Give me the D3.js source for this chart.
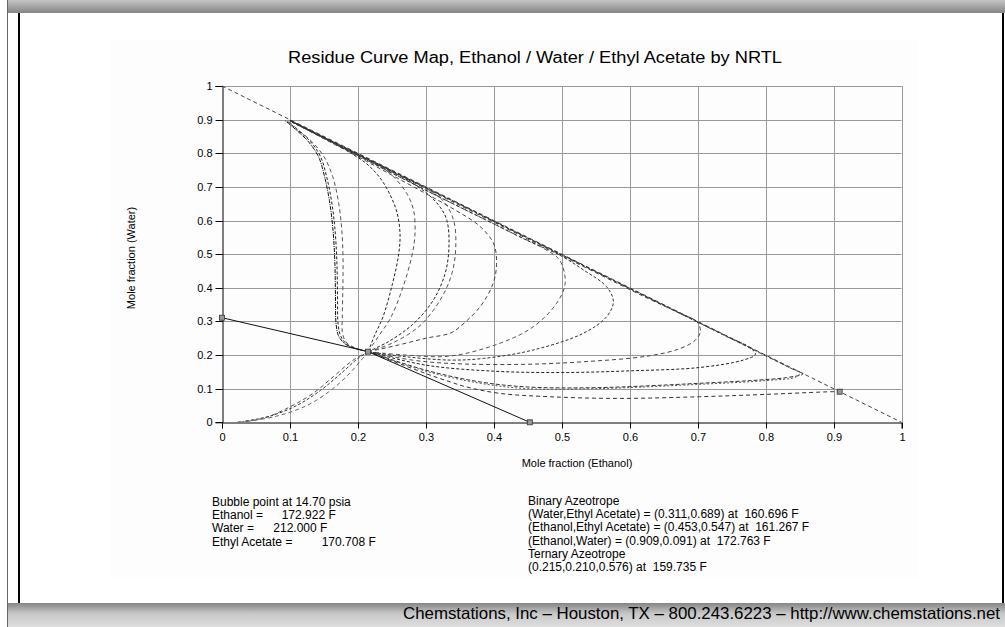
<!DOCTYPE html>
<html><head><meta charset="utf-8">
<script src="https://cdn.jsdelivr.net/npm/d3@7"></script>
<style>
body{margin:0;background:#fff;}
svg text{font-family:"Liberation Sans",Arial,sans-serif;}
</style></head>
<body><svg id="c" width="1005" height="627"></svg>
<script>
// ---------- data ----------
const titleText = "Residue Curve Map, Ethanol / Water / Ethyl Acetate by NRTL";
const xLabel = "Mole fraction (Ethanol)";
const yLabel = "Mole fraction (Water)";
const tickValues = [0,0.1,0.2,0.3,0.4,0.5,0.6,0.7,0.8,0.9,1];
const tickLabels = ["0","0.1","0.2","0.3","0.4","0.5","0.6","0.7","0.8","0.9","1"];
const hypotenuse = [[0,1],[1,0]];
const boundary = [[0,0.311],[0.215,0.210],[0.453,0]];
const azeotropes = [[0,0.311],[0.215,0.210],[0.453,0],[0.909,0.091]];
const curveA = [[0.215,0.21],[0.198,0.219],[0.182,0.232],[0.172,0.255],[0.168,0.29],[0.167,0.38],[0.166,0.48],[0.163,0.58],[0.158,0.66],[0.151,0.73],[0.142,0.79],[0.127,0.835],[0.11,0.868],[0.093,0.897]];
const curveA2 = [[0.215,0.21],[0.2,0.218],[0.185,0.23],[0.175,0.255],[0.171,0.29],[0.17,0.38],[0.169,0.48],[0.166,0.58],[0.161,0.66],[0.154,0.73],[0.145,0.79],[0.13,0.835],[0.112,0.868],[0.095,0.897]];
const curveB = [[0.215,0.21],[0.195,0.222],[0.182,0.24],[0.177,0.27],[0.177,0.31],[0.178,0.42],[0.178,0.5],[0.176,0.58],[0.171,0.66],[0.163,0.73],[0.15,0.79],[0.132,0.835],[0.112,0.87],[0.095,0.9]];
const curveC = [[0.215,0.21],[0.225,0.26],[0.237,0.314],[0.251,0.413],[0.26,0.5],[0.262,0.56],[0.258,0.62],[0.25,0.665],[0.235,0.72],[0.215,0.765],[0.19,0.8],[0.16,0.835],[0.13,0.865],[0.1,0.895]];
const curveD = [[0.215,0.21],[0.23,0.255],[0.248,0.31],[0.266,0.4],[0.28,0.5],[0.284,0.56],[0.282,0.63],[0.272,0.68],[0.25,0.735],[0.225,0.77],[0.19,0.805],[0.15,0.847],[0.12,0.877],[0.1,0.897]];
const curveE = [[0.215,0.21],[0.245,0.24],[0.28,0.29],[0.31,0.36],[0.328,0.44],[0.334,0.52],[0.331,0.6],[0.321,0.64],[0.302,0.68],[0.275,0.718],[0.24,0.755],[0.2,0.795],[0.15,0.845],[0.1,0.897]];
const curveF = [[0.215,0.21],[0.25,0.235],[0.29,0.285],[0.32,0.36],[0.338,0.44],[0.344,0.52],[0.341,0.6],[0.327,0.655],[0.305,0.69],[0.27,0.727],[0.23,0.767],[0.19,0.808],[0.14,0.857],[0.1,0.898]];
const curveG = [[0.215,0.21],[0.26,0.23],[0.3,0.25],[0.336,0.265],[0.35,0.284],[0.38,0.344],[0.399,0.413],[0.404,0.47],[0.4,0.53],[0.38,0.582],[0.34,0.635],[0.3,0.68],[0.25,0.735],[0.2,0.79],[0.15,0.843],[0.1,0.897]];
const curveH = [[0.215,0.21],[0.27,0.2],[0.336,0.197],[0.409,0.235],[0.458,0.284],[0.4925,0.354],[0.505,0.413],[0.497,0.482],[0.475,0.515],[0.43,0.56],[0.38,0.61],[0.3,0.69],[0.2,0.793],[0.1,0.897]];
const curveI = [[0.215,0.21],[0.27,0.195],[0.336,0.185],[0.385,0.19],[0.458,0.215],[0.532,0.265],[0.566,0.314],[0.576,0.359],[0.566,0.403],[0.532,0.453],[0.497,0.497],[0.45,0.54],[0.4,0.59],[0.3,0.69],[0.2,0.793],[0.1,0.897]];
const curveJ = [[0.215,0.21],[0.28,0.185],[0.336,0.175],[0.434,0.172],[0.532,0.18],[0.63,0.198],[0.675,0.22],[0.697,0.245],[0.704,0.27],[0.699,0.299],[0.674,0.324],[0.62,0.375],[0.55,0.445],[0.45,0.545],[0.3,0.695],[0.2,0.795],[0.1,0.897]];
const curveK = [[0.215,0.21],[0.3,0.17],[0.4,0.152],[0.5,0.148],[0.6,0.153],[0.703,0.163],[0.767,0.185],[0.785,0.202],[0.777,0.222],[0.74,0.258],[0.65,0.348],[0.5,0.498],[0.35,0.648],[0.2,0.797],[0.1,0.898]];
const curveL = [[0.215,0.21],[0.3,0.155],[0.38,0.12],[0.45,0.105],[0.55,0.103],[0.703,0.116],[0.8,0.127],[0.831,0.133],[0.855,0.144],[0.84,0.158],[0.78,0.218],[0.65,0.348],[0.5,0.498],[0.35,0.648],[0.2,0.798],[0.1,0.898]];
const curveM = [[0.215,0.21],[0.3,0.152],[0.38,0.116],[0.45,0.1],[0.55,0.1],[0.703,0.113],[0.8,0.124],[0.845,0.135],[0.85,0.147],[0.835,0.163],[0.78,0.219],[0.65,0.349]];
const curveN = [[0.215,0.21],[0.3,0.145],[0.336,0.12],[0.36,0.105],[0.409,0.086],[0.483,0.076],[0.581,0.071],[0.703,0.076],[0.8,0.083],[0.898,0.091],[0.909,0.091]];
const curveP = [[0.215,0.21],[0.193,0.185],[0.164,0.136],[0.134,0.086],[0.1,0.046],[0.061,0.012],[0.022,0.001]];
const curveQ = [[0.215,0.21],[0.2,0.19],[0.175,0.145],[0.145,0.095],[0.11,0.05],[0.07,0.018],[0.03,0.002]];
const curveR = [[0.215,0.21],[0.205,0.185],[0.185,0.14],[0.16,0.095],[0.125,0.05],[0.08,0.018],[0.035,0.002]];
const residueCurves = [curveA,curveA2,curveB,curveC,curveD,curveE,curveF,curveG,curveH,curveI,curveJ,curveK,curveL,curveM,curveN,curveP,curveQ,curveR];
const bubbleHeader = "Bubble point at 14.70 psia";
const bubbleNames = ["Ethanol =","Water =","Ethyl Acetate ="];
const bubbleValues = ["172.922 F","212.000 F","170.708 F"];
const azeoLines = ["Binary Azeotrope","(Water,Ethyl Acetate) = (0.311,0.689) at  160.696 F","(Ethanol,Ethyl Acetate) = (0.453,0.547) at  161.267 F","(Ethanol,Water) = (0.909,0.091) at  172.763 F","Ternary Azeotrope","(0.215,0.210,0.576) at  159.735 F"];
const footerText = "Chemstations, Inc \u2013 Houston, TX \u2013 800.243.6223 \u2013 http://www.chemstations.net";

// ---------- layout / styles ----------
const bubbleValueX = [281.7,273.3,321.7];
const curveStyles = [
  {c:"#111",d:"4,1,1,1"},{c:"#222",d:"3,2"},{c:"#555",d:"4,3"},
  {c:"#222",d:"3,2"},{c:"#555",d:"4,3"},{c:"#222",d:"3,2"},{c:"#555",d:"4,3"},
  {c:"#444",d:"4,3"},{c:"#555",d:"4,3"},{c:"#333",d:"3,2"},{c:"#444",d:"4,3"},
  {c:"#222",d:"3,2"},{c:"#333",d:"4,2"},{c:"#555",d:"2,2"},{c:"#333",d:"4,3"},
  {c:"#555",d:"4,3"},{c:"#333",d:"3,2"},{c:"#666",d:"4,3"}
];

const svg = d3.select("#c");
const defs = svg.append("defs");
const g1 = defs.append("linearGradient").attr("id","hdr").attr("x1",0).attr("y1",0).attr("x2",0).attr("y2",1);
g1.append("stop").attr("offset","0").attr("stop-color","#c4c4c4");
g1.append("stop").attr("offset","1").attr("stop-color","#858585");
const g2 = defs.append("linearGradient").attr("id","ftr").attr("x1",0).attr("y1",0).attr("x2",0).attr("y2",1);
g2.append("stop").attr("offset","0").attr("stop-color","#858585");
g2.append("stop").attr("offset","0.45").attr("stop-color","#c8c8c8");
g2.append("stop").attr("offset","1").attr("stop-color","#dedede");

// page frame
svg.append("rect").attr("x",110).attr("y",40).attr("width",808).attr("height",538).attr("fill","#fdfdfd");
svg.append("rect").attr("x",7).attr("y",0).attr("width",998).attr("height",13).attr("fill","url(#hdr)");
svg.append("rect").attr("x",7).attr("y",603).attr("width",998).attr("height",24).attr("fill","url(#ftr)");
svg.append("line").attr("x1",7.5).attr("x2",7.5).attr("y1",0).attr("y2",627).attr("stroke","#666");
svg.append("rect").attr("x",18).attr("y",13).attr("width",2).attr("height",590).attr("fill","#000");
svg.append("rect").attr("x",1002).attr("y",13).attr("width",2).attr("height",590).attr("fill","#000");

// scales
const x = d3.scaleLinear().domain([0,1]).range([222,901.5]);
const y = d3.scaleLinear().domain([0,1]).range([422.3,86]);

// grid
const grid = svg.append("g");
grid.selectAll("line.v").data(tickValues.slice(1)).join("line")
  .attr("x1",d=>Math.round(x(d))+0.5).attr("x2",d=>Math.round(x(d))+0.5)
  .attr("y1",y(1)).attr("y2",y(0)).attr("stroke","#999").attr("stroke-width",1);
grid.selectAll("line.h").data(tickValues.slice(1)).join("line")
  .attr("y1",d=>Math.round(y(d))+0.5).attr("y2",d=>Math.round(y(d))+0.5)
  .attr("x1",x(0)).attr("x2",x(1)).attr("stroke","#999").attr("stroke-width",1);

// axes
const xAxis = svg.append("g").attr("transform",`translate(0,${Math.round(y(0))+0.5})`)
  .call(d3.axisBottom(x).tickValues(tickValues).tickFormat((d,i)=>tickLabels[i]).tickSize(6).tickPadding(5));
const yAxis = svg.append("g").attr("transform",`translate(${Math.round(x(0))+0.5},0)`)
  .call(d3.axisLeft(y).tickValues(tickValues).tickFormat((d,i)=>tickLabels[i]).tickSize(7).tickPadding(3));
[xAxis,yAxis].forEach(a=>{
  a.select(".domain").attr("stroke","#000");
  a.selectAll(".tick line").attr("stroke","#000");
  a.selectAll(".tick text").attr("font-size",11).attr("fill","#000").attr("font-family","Liberation Sans, Arial, sans-serif");
});
xAxis.selectAll(".tick").attr("transform",d=>`translate(${Math.round(x(d))+0.5},0)`);
yAxis.selectAll(".tick").attr("transform",d=>`translate(0,${Math.round(y(d))+0.5})`);

// lines
const line = d3.line().x(d=>x(d[0])).y(d=>y(d[1]));
const smooth = d3.line().x(d=>x(d[0])).y(d=>y(d[1])).curve(d3.curveCatmullRom.alpha(0.5));
svg.append("path").attr("d",line(hypotenuse)).attr("fill","none").attr("stroke","#444").attr("stroke-dasharray","4,3");
svg.append("g").selectAll("path").data(residueCurves).join("path")
  .attr("d",d=>smooth(d)).attr("fill","none")
  .attr("stroke",(d,i)=>curveStyles[i].c).attr("stroke-dasharray",(d,i)=>curveStyles[i].d).attr("stroke-width",1);
svg.append("path").attr("d",line(boundary)).attr("fill","none").attr("stroke","#111").attr("stroke-width",1);
svg.append("g").selectAll("rect").data(azeotropes).join("rect")
  .attr("x",d=>x(d[0])-2.5).attr("y",d=>y(d[1])-2.5).attr("width",5).attr("height",5)
  .attr("fill","#999").attr("stroke","#333").attr("stroke-width",0.8);

// titles
svg.append("text").attr("x",288).attr("y",63).attr("font-size",16)
  .attr("textLength",494).attr("lengthAdjust","spacingAndGlyphs").text(titleText);
svg.append("text").attr("x",577).attr("y",467).attr("text-anchor","middle").attr("font-size",11).text(xLabel);
svg.append("text").attr("transform","translate(135,258) rotate(-90)").attr("text-anchor","middle").attr("font-size",11).text(yLabel);

// info text
svg.append("text").attr("x",212).attr("y",505.7).attr("font-size",12).style("white-space","pre").text(bubbleHeader);
bubbleNames.forEach((l,i)=>{
  svg.append("text").attr("x",212).attr("y",519+i*13.3).attr("font-size",12).text(l);
  svg.append("text").attr("x",bubbleValueX[i]).attr("y",519+i*13.3).attr("font-size",12).text(bubbleValues[i]);
});
azeoLines.forEach((l,i)=>{
  svg.append("text").attr("x",528).attr("y",504.8+i*13.3).attr("font-size",12).style("white-space","pre").text(l);
});
svg.append("text").attr("x",403).attr("y",619).attr("font-size",16.5)
  .attr("font-family","DejaVu Sans, sans-serif").attr("fill","#000")
  .attr("textLength",597).attr("lengthAdjust","spacingAndGlyphs").text(footerText);
</script></body></html>
